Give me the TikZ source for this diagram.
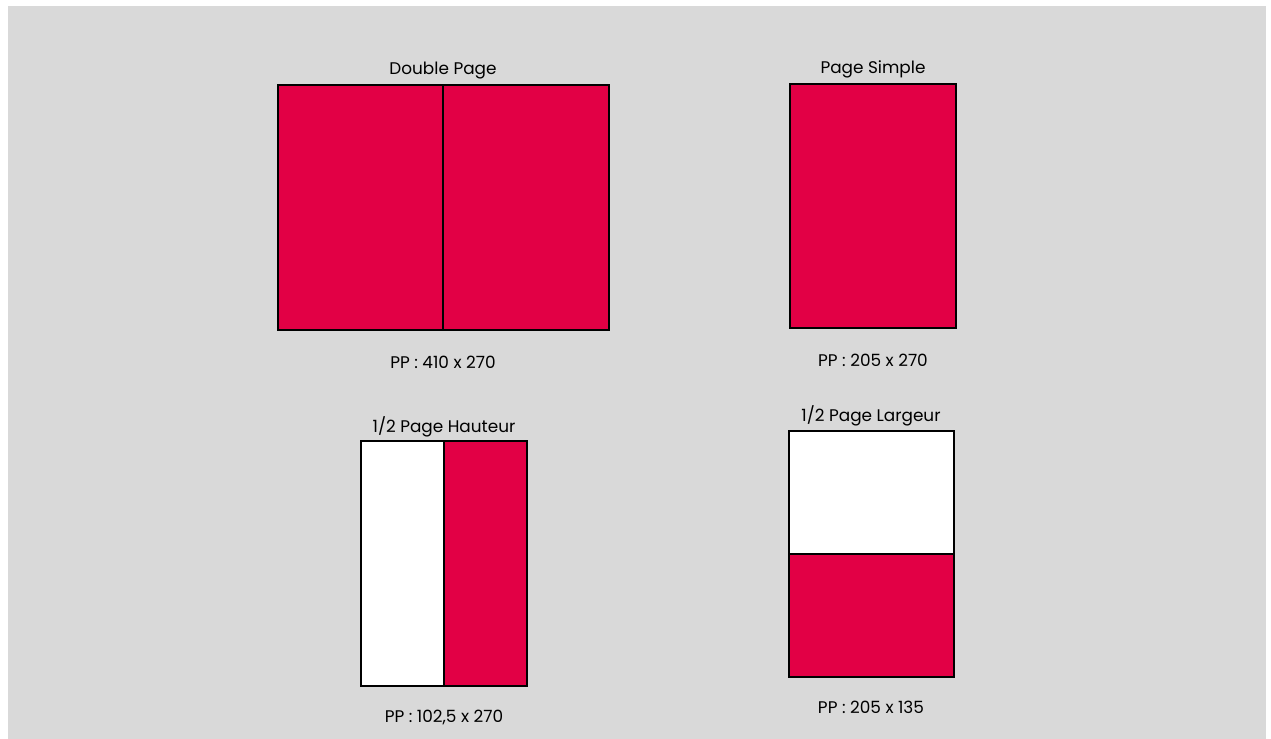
\documentclass[tikz,border=0pt]{standalone}
\usepackage{fontspec}
\setmainfont{Poppins}
\definecolor{pagered}{HTML}{E20045}
\definecolor{bggray}{HTML}{D9D9D9}
\begin{document}
\begin{tikzpicture}[
    x=0.02cm,y=-0.02cm,
    pagebox/.style={draw=black,line width=1.6pt},
    title/.style={font=\fontsize{9.6}{11}\selectfont,text=black,inner sep=0pt},
    size/.style={font=\fontsize{9.6}{11}\selectfont,text=black,inner sep=0pt}
]
    \useasboundingbox[fill=white] (0,0) rectangle (1271,739);
    \fill[bggray] (8,6) rectangle (1266,739);

    % double page
    \fill[pagered] (278,85) rectangle (609,330);
    \draw[pagebox] (278,85) rectangle (609,330);
    \draw[pagebox] (443,85) -- (443,330);
    \node[title] (doubletitle) at (443,71) {Double Page};
    \node[size] (doublesize) at (443,362) {PP : 410 x 270};

    % page simple
    \fill[pagered] (790,84) rectangle (956,328);
    \draw[pagebox] (790,84) rectangle (956,328);
    \node[title] (simpletitle) at (873,69) {Page Simple};
    \node[size] (simplesize) at (873,360) {PP : 205 x 270};

    % demi page hauteur
    \fill[white] (361,441) rectangle (444,686);
    \fill[pagered] (444,441) rectangle (527,686);
    \draw[pagebox] (361,441) rectangle (527,686);
    \draw[pagebox] (444,441) -- (444,686);
    \node[title] (hauteurtitle) at (444,427) {1/2 Page Hauteur};
    \node[size] (hauteursize) at (444,717) {PP : 102,5 x 270};

    % demi page largeur
    \fill[white] (789,431) rectangle (954,554);
    \fill[pagered] (789,554) rectangle (954,677);
    \draw[pagebox] (789,431) rectangle (954,677);
    \draw[pagebox] (789,554) -- (954,554);
    \node[title] (largeurtitle) at (871,416) {1/2 Page Largeur};
    \node[size] (largeursize) at (871,707) {PP : 205 x 135};
\end{tikzpicture}
\end{document}
